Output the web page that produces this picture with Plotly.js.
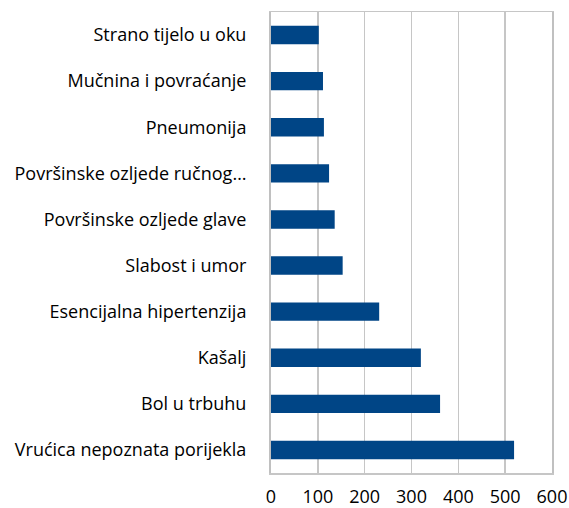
<!DOCTYPE html>
<html><head><meta charset="utf-8">
<script src="https://cdn.plot.ly/plotly-3.0.1.min.js"></script>
<style>html,body{margin:0;padding:0;background:#fff}#chart{width:569px;height:508px}</style>
</head><body><div id="chart"></div>
<script>
const categories = [
  "Vrućica nepoznata porijekla",
  "Bol u trbuhu",
  "Kašalj",
  "Esencijalna hipertenzija",
  "Slabost i umor",
  "Površinske ozljede glave",
  "Površinske ozljede ručnog…",
  "Pneumonija",
  "Mučnina i povraćanje",
  "Strano tijelo u oku"
];
const values = [519, 361, 320, 231, 153, 136, 124, 113, 111, 102];
const xTicks = [0, 100, 200, 300, 400, 500, 600];

Plotly.newPlot('chart', [{
  type: 'bar', orientation: 'h',
  y: categories, x: values,
  marker: {color: '#004586'},
  width: 0.4,
  hoverinfo: 'none'
}], {
  width: 569, height: 508,
  margin: {l: 271, r: 17, t: 12, b: 35},
  paper_bgcolor: '#fff', plot_bgcolor: '#fff',
  font: {family: '"Open Sans", sans-serif', size: 18, color: '#000'},
  showlegend: false,
  bargap: 0.6,
  xaxis: {range: [0, 600], tickvals: xTicks, ticktext: xTicks.map(String),
    showgrid: true, gridcolor: '#c6c6c6', gridwidth: 1.5,
    zeroline: false, showline: true, linecolor: '#c6c6c6', linewidth: 1.5, mirror: true,
    ticks: '', ticklabelstandoff: 7, fixedrange: true},
  yaxis: {type: 'category', range: [-0.5, 9.5], showgrid: false, zeroline: false,
    showline: true, linecolor: '#c0c0c0', linewidth: 2, mirror: true,
    ticks: '', ticklabelstandoff: 19, fixedrange: true}
}, {displayModeBar: false, staticPlot: true});
</script></body></html>
